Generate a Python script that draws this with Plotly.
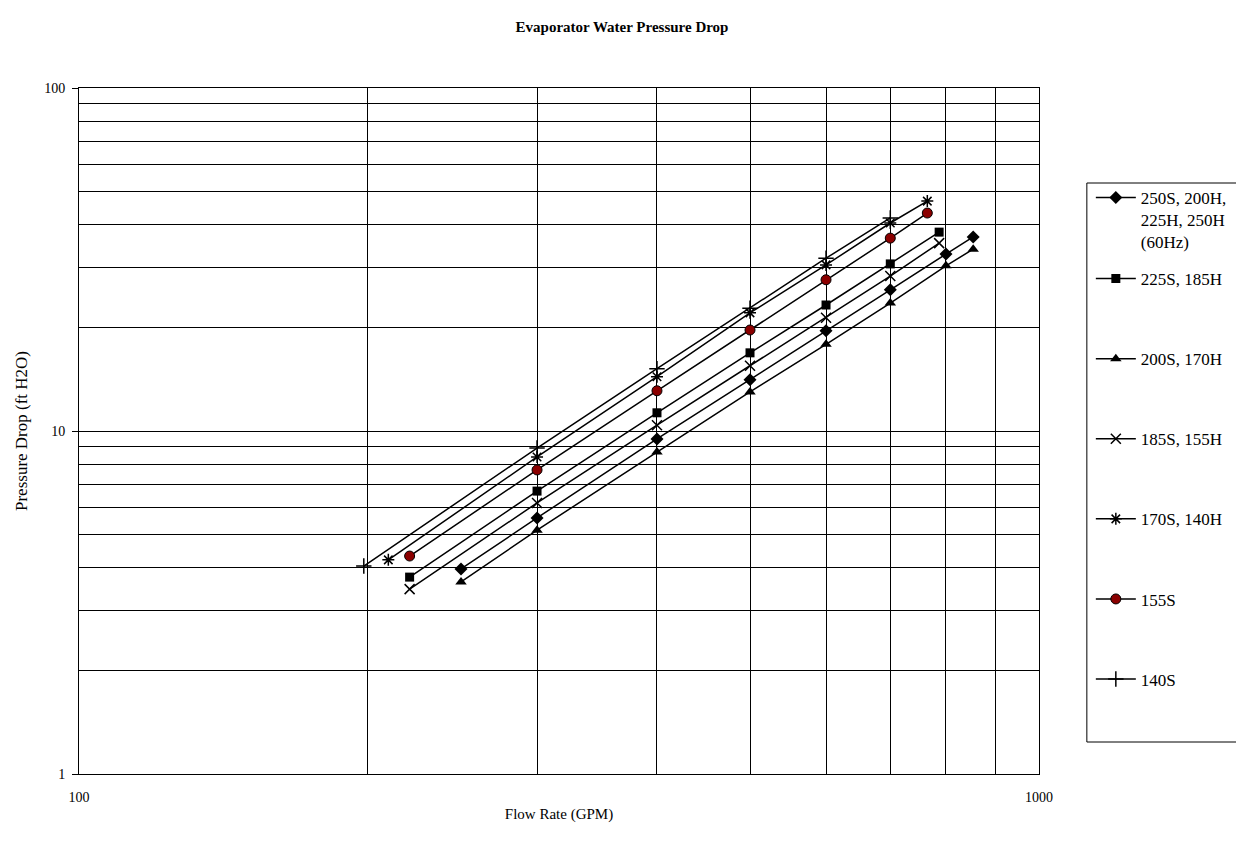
import plotly.graph_objects as go

names = ["250S, 200H,<br>225H, 250H<br>(60Hz)", "225S, 185H", "200S, 170H",
         "185S, 155H", "170S, 140H", "155S", "140S"]

x_250S = [250, 300, 400, 500, 600, 700, 800, 854]
y_250S = [3.96, 5.58, 9.48, 14.1, 19.6, 25.8, 32.8, 36.8]
x_225S = [221, 300, 400, 500, 600, 700, 787]
y_225S = [3.75, 6.68, 11.3, 16.9, 23.3, 30.7, 38.0]
x_200S = [250, 300, 400, 500, 600, 700, 800, 854]
y_200S = [3.63, 5.14, 8.68, 13.0, 17.9, 23.6, 30.3, 33.9]
x_185S = [221, 300, 400, 500, 600, 700, 787]
y_185S = [3.46, 6.17, 10.4, 15.5, 21.4, 28.3, 35.3]
x_170S = [210, 300, 400, 500, 600, 700, 765]
y_170S = [4.21, 8.40, 14.4, 22.1, 30.5, 40.4, 46.8]
x_155S = [221, 300, 400, 500, 600, 700, 765]
y_155S = [4.32, 7.70, 13.1, 19.7, 27.6, 36.5, 43.2]
x_140S = [198, 300, 400, 500, 600, 700]
y_140S = [4.04, 8.92, 15.2, 22.8, 31.9, 41.8]

xs = [x_250S, x_225S, x_200S, x_185S, x_170S, x_155S, x_140S]
ys = [y_250S, y_225S, y_200S, y_185S, y_170S, y_155S, y_140S]

markers = [
    dict(symbol="diamond", size=10, color="black"),
    dict(symbol="square", size=9, color="black"),
    dict(symbol="triangle-up", size=10, color="black"),
    dict(symbol="x-thin", size=10, color="black", line=dict(width=1.5, color="black")),
    dict(symbol="asterisk", size=10, color="black", line=dict(width=1.5, color="black")),
    dict(symbol="circle", size=10, color="#8B0000", line=dict(width=1, color="black")),
    dict(symbol="cross-thin", size=11, color="black", line=dict(width=1.5, color="black")),
]

FONT = "Liberation Serif, Times New Roman, serif"

fig = go.Figure()
for i in range(len(names)):
    fig.add_trace(go.Scatter(
        x=xs[i], y=ys[i], name=names[i], mode="lines+markers",
        line=dict(color="black", width=1.5), marker=markers[i],
        legend="legend" if i == 0 else "legend2",
        legendgroup=str(i),
    ))

# page body has an 8px margin
OFF = 8
L, R, T, B = 77 - OFF, 204, 88 - OFF, 68
W, H = 1244 - OFF, 842 - OFF
pw = W - L - R
ph = H - T - B

def px_to_paper_x(px):
    return (px - OFF - L) / pw

def px_to_paper_y(py):
    return 1 - (py - OFF - T) / ph

fig.add_shape(type="rect", xref="paper", yref="paper",
              x0=px_to_paper_x(1088), x1=px_to_paper_x(1260),
              y0=px_to_paper_y(742), y1=px_to_paper_y(183),
              line=dict(color="black", width=1), fillcolor="rgba(0,0,0,0)")

grid_x = [200, 300, 400, 500, 600, 700, 800, 900]
grid_y = [2, 3, 4, 5, 6, 7, 8, 9, 20, 30, 40, 50, 60, 70, 80, 90]

leg_common = dict(xanchor="left", yanchor="top", bgcolor="rgba(0,0,0,0)", borderwidth=0,
                  font=dict(size=17, family=FONT), itemwidth=40, valign="top")

fig.update_layout(
    width=W, height=H,
    margin=dict(l=L, r=R, t=T, b=B),
    paper_bgcolor="white", plot_bgcolor="white",
    font=dict(family=FONT, size=14, color="black"),
    title=dict(text="<b>Evaporator Water Pressure Drop</b>", x=(622 - OFF) / W, xref="container",
               xanchor="center", y=1 - (27 - OFF) / H, yanchor="middle",
               font=dict(size=15, family=FONT)),
    xaxis=dict(type="log", range=[2, 3], tickvals=[100, 1000], ticktext=["100", "1000"],
               showgrid=False, showline=True, mirror=True, linecolor="black", linewidth=1,
               ticks="", ticklen=0, ticklabelstandoff=10,
               minor=dict(tickvals=grid_x, showgrid=True, gridcolor="black", gridwidth=1, ticks=""),
               title=dict(text="Flow Rate (GPM)", standoff=4, font=dict(size=15)),
               tickfont=dict(size=14), zeroline=False),
    yaxis=dict(type="log", range=[0, 2], tickvals=[1, 10, 100], ticktext=["1", "10", "100"],
               showgrid=True, gridcolor="black", gridwidth=1,
               showline=True, mirror=True, linecolor="black", linewidth=1,
               ticks="outside", ticklen=6, tickcolor="black", ticklabelstandoff=4,
               minor=dict(tickvals=grid_y, showgrid=True, gridcolor="black", gridwidth=1, ticks=""),
               title=dict(text="Pressure Drop (ft H2O)", standoff=12, font=dict(size=17)),
               tickfont=dict(size=14), zeroline=False),
    showlegend=True,
    legend=dict(x=px_to_paper_x(1092), y=px_to_paper_y(180), **leg_common),
    legend2=dict(x=px_to_paper_x(1092), y=px_to_paper_y(261), tracegroupgap=55, **leg_common),
)

fig.write_html("out.html")
